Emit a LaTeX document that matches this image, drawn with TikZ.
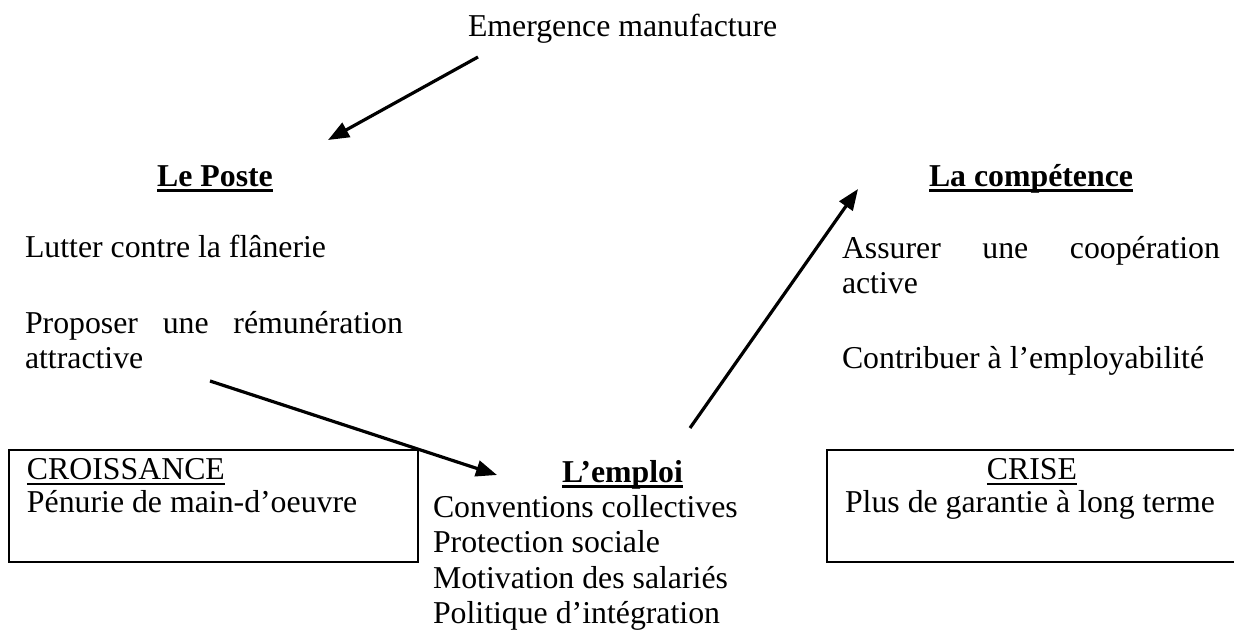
\documentclass[tikz,border=0pt]{standalone}
\usepackage{fontspec}
\setmainfont{Liberation Serif}
\usetikzlibrary{arrows.meta}
\newcommand{\ulbox}[3]{\setbox0=\hbox{#3}\rlap{\rule[-#1]{\wd0}{#2}}\box0}
\begin{document}
\begin{tikzpicture}[x=1pt,y=-1pt,
  every node/.style={font=\fontsize{31.8}{35.5}\selectfont, inner sep=0pt, outer sep=0pt},
  txt/.style={anchor=base west},
  ctxt/.style={anchor=base},
  boxst/.style={draw, line width=2pt, anchor=north west},
  conn/.style={line width=3.2pt, -{Triangle[length=21pt,width=16pt]}}]
\useasboundingbox (0,0) rectangle (1234,635);
\clip (0,0) rectangle (1234,635);
\fill[white] (0,0) rectangle (1234,635);

% top
\node[txt] (emerg) at (468,36) {Emergence manufacture};

% Le Poste column
\node[ctxt] (poste) at (215,186) {\bfseries\ulbox{5.6pt}{2.8pt}{Le Poste}};
\node[txt] (lutter) at (25,257) {Lutter contre la flânerie};
\node[txt] (proposer) at (25,333) {\hbox to 378pt{Proposer\hfill une\hfill rémunération}};
\node[txt] (attract) at (25,368) {attractive};

% La competence column
\node[ctxt] (compet) at (1031,186) {\bfseries\ulbox{5.6pt}{2.8pt}{La compétence}};
\node[txt] (assurer) at (842,258) {\hbox to 378pt{Assurer\hfill une\hfill coopération}};
\node[txt] (active) at (842,293) {active};
\node[txt] (contrib) at (842,368) {Contribuer à l’employabilité};

% boxes
\node[boxst, minimum width=409pt, minimum height=112pt] (croisbox) at (9,450) {};
\node[txt] (croiss) at (27,479) {\ulbox{5.6pt}{2pt}{CROISSANCE}};
\node[txt] (penurie) at (27,512) {Pénurie de main-d’oeuvre};

\node[boxst, minimum width=420pt, minimum height=112pt] (crisebox) at (827,450) {};
\node[ctxt] (crise) at (1032,479) {\ulbox{5.6pt}{2pt}{CRISE}};
\node[txt] (plus) at (845,512) {Plus de garantie à long terme};

% L'emploi
\node[ctxt] (emploi) at (622.5,482) {\bfseries\ulbox{5.6pt}{2.8pt}{L’emploi}};
\node[txt] (conv) at (433,517) {Conventions collectives};
\node[txt] (protec) at (433,552.5) {Protection sociale};
\node[txt] (motiv) at (433,588) {Motivation des salariés};
\node[txt] (polit) at (433,623.5) {Politique d’intégration};

% connector end points
\coordinate (a1s) at (478,57);
\coordinate (a1e) at (328,140);
\coordinate (a2s) at (210,381);
\coordinate (a2e) at (497,475);
\coordinate (a3s) at (690,428);
\coordinate (a3e) at (858,189);

\draw[conn] (a1s) -- (a1e);
\draw[conn] (a2s) -- (a2e);
\draw[conn] (a3s) -- (a3e);
\end{tikzpicture}
\end{document}
